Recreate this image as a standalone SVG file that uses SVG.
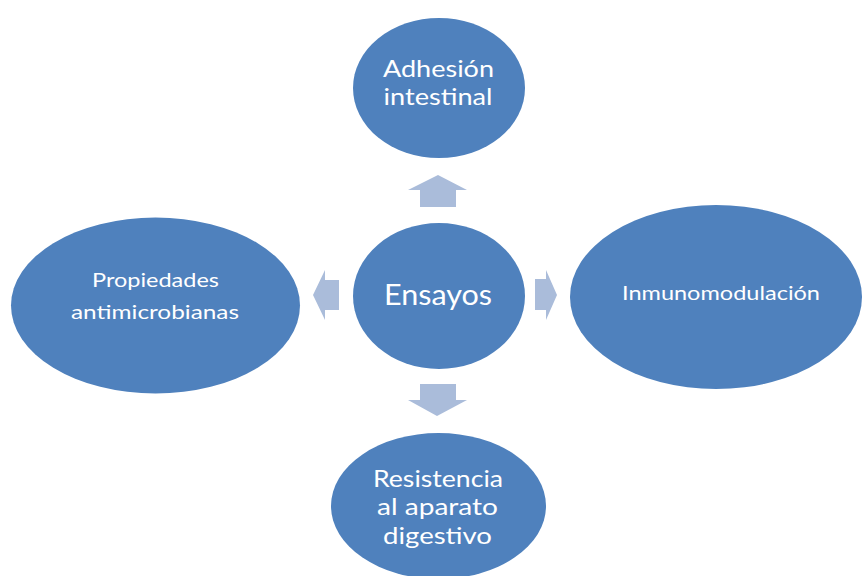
<svg xmlns="http://www.w3.org/2000/svg" width="862" height="576" viewBox="0 0 862 576">
<style>
.node{fill:#4F81BD}
.arr{fill:#AABCDA}
text{font-family:Lato,"Open Sans","Liberation Sans",sans-serif;fill:#FFFFFF;text-anchor:middle}
</style>
<rect width="862" height="576" fill="#FFFFFF"/>
<g id="connectors">
<polygon class="arr" points="420,207 420,190 408,190 438,175 467,190 456,190 456,207"/>
<polygon class="arr" points="420,384 456,384 456,400 467,400 437,416 408,400 420,400"/>
<polygon class="arr" points="339,280 339,310 325,310 325,320 313,295 325,270 325,280"/>
<polygon class="arr" points="535,279 546,279 546,270 557,295 546,320 546,310 535,310"/>
</g>
<g id="adhesion">
<ellipse class="node" cx="439" cy="88" rx="86" ry="70"/>
<text x="438.5" y="77" font-size="23" textLength="111" lengthAdjust="spacingAndGlyphs">Adhesión</text>
<text x="438" y="105" font-size="23" textLength="109" lengthAdjust="spacingAndGlyphs">intestinal</text>
</g>
<g id="ensayos">
<ellipse class="node" cx="439" cy="296" rx="86" ry="73"/>
<text x="438" y="305" font-size="28" textLength="108" lengthAdjust="spacingAndGlyphs">Ensayos</text>
</g>
<g id="propiedades">
<ellipse class="node" cx="155.5" cy="305.5" rx="144.5" ry="88"/>
<text x="155.5" y="287" font-size="20" textLength="127" lengthAdjust="spacingAndGlyphs">Propiedades</text>
<text x="155" y="319" font-size="20" textLength="168" lengthAdjust="spacingAndGlyphs">antimicrobianas</text>
</g>
<g id="inmuno">
<ellipse class="node" cx="716" cy="297" rx="146" ry="92"/>
<text x="721" y="300" font-size="20" textLength="198" lengthAdjust="spacingAndGlyphs">Inmunomodulación</text>
</g>
<g id="resistencia">
<ellipse class="node" cx="438.5" cy="506" rx="107.5" ry="73"/>
<text x="438" y="487" font-size="23" textLength="130" lengthAdjust="spacingAndGlyphs">Resistencia</text>
<text x="437.5" y="515" font-size="23" textLength="121" lengthAdjust="spacingAndGlyphs">al aparato</text>
<text x="437.5" y="544" font-size="23" textLength="109" lengthAdjust="spacingAndGlyphs">digestivo</text>
</g>
</svg>
